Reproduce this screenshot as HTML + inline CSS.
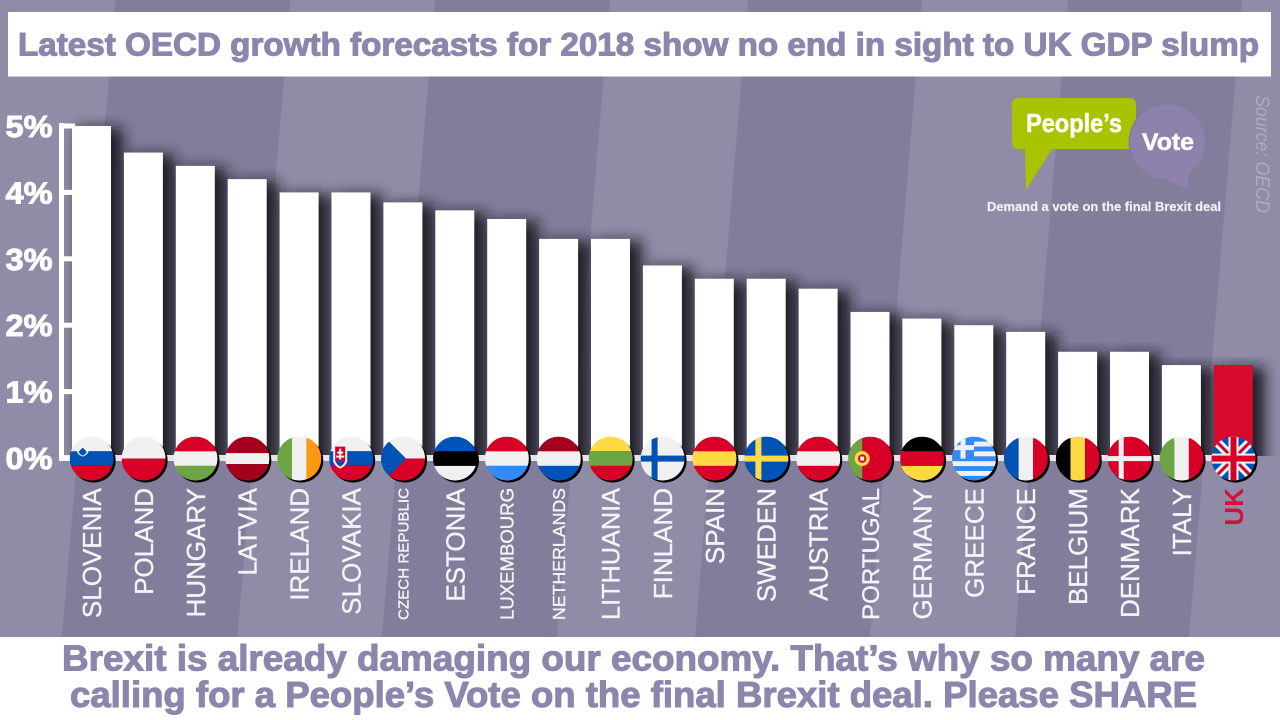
<!DOCTYPE html>
<html lang="en">
<head>
<meta charset="utf-8">
<title>Latest OECD growth forecasts for 2018</title>
<style>
  html, body { margin: 0; padding: 0; background: #827d9b; }
  #stage { position: relative; width: 1280px; height: 720px; overflow: hidden; }
  svg { display: block; font-family: "Liberation Sans", sans-serif; }
</style>
</head>
<body>
<div id="stage">
<svg id="chart" xmlns="http://www.w3.org/2000/svg" width="1280" height="720" viewBox="0 0 1280 720">
  <defs>
    <filter id="barBlur" x="-80%" y="-10%" width="260%" height="120%"><feGaussianBlur stdDeviation="7"/></filter>
    <clipPath id="plotClip"><rect x="0" y="0" width="1280" height="456"/></clipPath>
    <clipPath id="flagClip"><circle cx="0" cy="0" r="22"/></clipPath>
  </defs>

  <g>
    <rect width="1280" height="720" fill="#827d9b"/>
    <polygon points="0,0 115.5,0 62,637 0,637" fill="#908ca7"/>
    <polygon points="290.5,0 435,0 382,637 237.5,637" fill="#908ca7"/>
    <polygon points="610,0 748,0 695,637 557,637" fill="#908ca7"/>
    <polygon points="922,0 1068,0 1015,637 870,637" fill="#908ca7"/>
    <polygon points="1242,0 1280,0 1280,637 1189,637" fill="#908ca7"/>
  </g>

  <g id="shadows" clip-path="url(#plotClip)"></g>
  <g id="axis"></g>
  <g id="bars"></g>
  <g id="flags"></g>
  <g id="labels"></g>

  <g>
    <rect x="8" y="12" width="1263" height="64.5" fill="#ffffff"/>
    <text x="18" y="55.5" font-size="32" font-weight="700" fill="#8e85ad" stroke="#8e85ad" stroke-width="1.1" textLength="1241" lengthAdjust="spacingAndGlyphs">Latest OECD growth forecasts for 2018 show no end in sight to UK GDP slump</text>
  </g>

  <g>
    <path d="M1019,98 H1129 Q1136,98 1136,105 V149 H1052 L1026,190 L1025,149 H1019 Q1012,149 1012,142 V105 Q1012,98 1019,98 Z" fill="#aac300"/>
    <circle cx="1167.5" cy="142" r="39" fill="#827d9b"/>
    <circle cx="1167.5" cy="142" r="37.5" fill="#8e82ad"/>
    <polygon points="1160,176 1187,190 1189,170" fill="#8e82ad"/>
    <text x="1026" y="132" font-size="26" font-weight="700" fill="#ffffff" stroke="#ffffff" stroke-width="0.5" textLength="96" lengthAdjust="spacingAndGlyphs">People’s</text>
    <text x="1142" y="150" font-size="24" font-weight="700" fill="#ffffff" stroke="#ffffff" stroke-width="0.5" textLength="52" lengthAdjust="spacingAndGlyphs">Vote</text>
    <text x="987" y="211" font-size="12.5" font-weight="700" fill="#f0eff5" stroke="#f0eff5" stroke-width="0.2" textLength="234" lengthAdjust="spacingAndGlyphs">Demand a vote on the final Brexit deal</text>
  </g>

  <text transform="translate(1256,95) rotate(90)" font-size="19" font-style="italic" fill="#aeaac4" textLength="118" lengthAdjust="spacingAndGlyphs">Source: OECD</text>

  <g>
    <rect x="0" y="637" width="1280" height="83" fill="#ffffff"/>
    <text x="62" y="670.5" font-size="36" font-weight="700" fill="#8e85ad" stroke="#8e85ad" stroke-width="1.1" textLength="1143" lengthAdjust="spacingAndGlyphs">Brexit is already damaging our economy. That’s why so many are</text>
    <text x="70" y="707" font-size="36" font-weight="700" fill="#8e85ad" stroke="#8e85ad" stroke-width="1.1" textLength="1127" lengthAdjust="spacingAndGlyphs">calling for a People’s Vote on the final Brexit deal. Please SHARE</text>
  </g>
</svg>
</div>

<script>
var categories = ["SLOVENIA","POLAND","HUNGARY","LATVIA","IRELAND","SLOVAKIA","CZECH REPUBLIC","ESTONIA","LUXEMBOURG","NETHERLANDS","LITHUANIA","FINLAND","SPAIN","SWEDEN","AUSTRIA","PORTUGAL","GERMANY","GREECE","FRANCE","BELGIUM","DENMARK","ITALY","UK"];
var growthValues = [5.0,4.6,4.4,4.2,4.0,4.0,3.85,3.73,3.6,3.3,3.3,2.9,2.7,2.7,2.55,2.2,2.1,2.0,1.9,1.6,1.6,1.4,1.4];
var yTickValues = [0,1,2,3,4,5];
var yTickLabels = ["0%","1%","2%","3%","4%","5%"];
var highlightCategory = "UK";

var NS = "http://www.w3.org/2000/svg";
var BAND = 51.9, FIRST = 91.5, BAR_W = 39, Y0 = 458, UNIT = 66.4;
function xScale(i) { return FIRST + i * BAND; }
function yScale(v) { return Y0 - v * UNIT; }

function make(tag, attrs, parent) {
  var e = document.createElementNS(NS, tag);
  for (var k in attrs) e.setAttribute(k, attrs[k]);
  parent.appendChild(e);
  return e;
}
function slug(s) { return s.toLowerCase().replace(/\s+/g, "-"); }

var R = "#d80027", B = "#0052b4", W = "#f0f0f0", G = "#6da544", Y = "#ffda44", K = "#000000", O = "#ff9811", L = "#338af3", D = "#a2001d";
var flagSpecs = {
  "SLOVENIA": { h: [W, B, R] },
  "POLAND": { h: [W, R], even: true },
  "HUNGARY": { h: [R, W, G] },
  "LATVIA": { h: [D, W, D], narrow: true },
  "IRELAND": { v: [G, W, O] },
  "SLOVAKIA": { h: [W, B, R] },
  "CZECH REPUBLIC": { h: [W, R], even: true },
  "ESTONIA": { h: [B, K, W] },
  "LUXEMBOURG": { h: [R, W, L] },
  "NETHERLANDS": { h: [D, W, B] },
  "LITHUANIA": { h: [Y, G, R] },
  "FINLAND": { h: [W] },
  "SPAIN": { h: [R, Y, R] },
  "SWEDEN": { h: [B] },
  "AUSTRIA": { h: [R, W, R] },
  "PORTUGAL": { h: [R] },
  "GERMANY": { h: [K, R, Y] },
  "GREECE": { h: [L] },
  "FRANCE": { v: [B, W, R] },
  "BELGIUM": { v: [K, Y, R] },
  "DENMARK": { h: [R] },
  "ITALY": { v: [G, W, R] },
  "UK": { h: [B] }
};

function drawFlagExtras(name, g) {
  if (name === "SLOVENIA") {
    make("path", { d: "M-15,-15 H-3 V-9 Q-3,-4 -9,-2 Q-15,-4 -15,-9 Z", fill: W }, g);
    make("path", { d: "M-13,-7 L-9,-11 L-5,-7 Q-6,-4 -9,-3 Q-12,-4 -13,-7 Z", fill: B }, g);
  } else if (name === "SLOVAKIA") {
    make("path", { d: "M-18,-14 H-4 V3 Q-6,8 -11,10 Q-16,8 -18,3 Z", fill: W }, g);
    make("path", { d: "M-16,-12 H-6 V2 Q-7,6 -11,8 Q-15,6 -16,2 Z", fill: R }, g);
    make("rect", { x: -12, y: -10, width: 2, height: 11, fill: W }, g);
    make("rect", { x: -14, y: -7, width: 6, height: 2, fill: W }, g);
    make("rect", { x: -15, y: -3, width: 8, height: 2, fill: W }, g);
    make("path", { d: "M-15,2 H-7 Q-8,6 -11,8 Q-14,6 -15,2 Z", fill: B }, g);
  } else if (name === "CZECH REPUBLIC") {
    make("polygon", { points: "-22,-22 0,0 -22,22", fill: B }, g);
    make("polygon", { points: "-17,-20 3,0 -17,20 -22,20 -22,-20", fill: B }, g);
  } else if (name === "FINLAND") {
    make("rect", { x: -11, y: -22, width: 6, height: 44, fill: B }, g);
    make("rect", { x: -22, y: -3, width: 44, height: 6, fill: B }, g);
  } else if (name === "SWEDEN") {
    make("rect", { x: -11, y: -22, width: 6, height: 44, fill: Y }, g);
    make("rect", { x: -22, y: -3, width: 44, height: 6, fill: Y }, g);
  } else if (name === "DENMARK") {
    make("rect", { x: -11, y: -22, width: 5, height: 44, fill: W }, g);
    make("rect", { x: -22, y: -2.5, width: 44, height: 5, fill: W }, g);
  } else if (name === "PORTUGAL") {
    make("rect", { x: -22, y: -22, width: 14, height: 44, fill: G }, g);
    make("circle", { cx: -8, cy: 0, r: 7.5, fill: Y }, g);
    make("circle", { cx: -8, cy: 0, r: 4.2, fill: R }, g);
    make("rect", { x: -10, y: -2, width: 4, height: 4, fill: W }, g);
  } else if (name === "GREECE") {
    for (var s = 0; s < 4; s++) {
      make("rect", { x: -22, y: -17 + s * 9.8, width: 44, height: 4.9, fill: W }, g);
    }
    make("rect", { x: -22, y: -22, width: 22, height: 22, fill: L }, g);
    make("rect", { x: -13.5, y: -22, width: 5, height: 22, fill: W }, g);
    make("rect", { x: -22, y: -13.5, width: 22, height: 5, fill: W }, g);
  } else if (name === "UK") {
    make("path", { d: "M-22,-22 L22,22 M22,-22 L-22,22", stroke: W, "stroke-width": 9, fill: "none" }, g);
    make("path", { d: "M-22,-22 L22,22 M22,-22 L-22,22", stroke: R, "stroke-width": 3, fill: "none" }, g);
    make("rect", { x: -5, y: -22, width: 10, height: 44, fill: W }, g);
    make("rect", { x: -22, y: -5, width: 44, height: 10, fill: W }, g);
    make("rect", { x: -3, y: -22, width: 6, height: 44, fill: R }, g);
    make("rect", { x: -22, y: -3, width: 44, height: 6, fill: R }, g);
  }
}

function drawFlag(name, i, parent) {
  var spec = flagSpecs[name];
  var group = make("g", { transform: "translate(" + (xScale(i) + 0.2) + "," + (Y0 + 0.6) + ")" }, parent);
  
  
  make("circle", { cx: 2, cy: 2, r: 22, fill: "#000000" }, group);
  var inner = make("g", { "clip-path": "url(#flagClip)" }, group);
  var bands = spec.h || spec.v, horizontal = !!spec.h, n = bands.length;
  var stops = [];
  if (n === 1) stops = [-22, 22];
  else if (n === 2) stops = [-22, 0, 22];
  else if (spec.narrow) stops = [-22, -5.5, 5.5, 22];
  else stops = [-22, -7.3, 7.3, 22];
  bands.forEach(function (color, b) {
    var a = stops[b], z = stops[b + 1];
    if (horizontal) make("rect", { x: -22, y: a, width: 44, height: z - a, fill: color }, inner);
    else make("rect", { x: a, y: -22, width: z - a, height: 44, fill: color }, inner);
  });
  drawFlagExtras(name, inner);
}

var shadowLayer = document.getElementById("shadows");
var barLayer = document.getElementById("bars");
var flagLayer = document.getElementById("flags");
var labelLayer = document.getElementById("labels");
var axisLayer = document.getElementById("axis");

var zeroLine = make("rect", { x: 59, y: Y0 - 3, width: 1194, height: 6, fill: "#e6e6ea" }, axisLayer);


var yLine = make("rect", { x: 59, y: yScale(yTickValues[yTickValues.length - 1]) - 3, width: 5, height: (yScale(0) - yScale(yTickValues[yTickValues.length - 1])) + 6, fill: "#ffffff" }, axisLayer);



yTickValues.forEach(function (t, k) {
  var tick = make("rect", { x: 59, y: yScale(t) - 2.5, width: 16, height: 5, fill: "#ffffff" }, axisLayer);
  
  
  var lab = make("text", { x: 5.5, y: yScale(t) + 11, "font-size": 31, "font-weight": 700, fill: "#ffffff", stroke: "#ffffff", "stroke-width": 1, textLength: 47, lengthAdjust: "spacingAndGlyphs" }, axisLayer);
  lab.textContent = yTickLabels[k];
  
  
});

categories.forEach(function (name, i) {
  var cx = xScale(i), top = yScale(growthValues[i]), h = Y0 - top, hi = name === highlightCategory;

  var sh = make("rect", { x: cx - BAR_W / 2 + 6, y: top + 2, width: BAR_W + 6, height: h + 10, fill: "#16141f", opacity: 0.92, filter: "url(#barBlur)" }, shadowLayer);
  
  

  var bar = make("rect", { x: cx - BAR_W / 2, y: top, width: BAR_W, height: h, fill: hi ? "#d80a2d" : "#ffffff" }, barLayer);
  
  

  drawFlag(name, i, flagLayer);

  var label = make("text", { "text-anchor": "end", "font-size": 26, "font-weight": hi ? 700 : 400, fill: hi ? "#d2103a" : "#f4f4f7", stroke: hi ? "none" : "#f4f4f7", "stroke-width": 0.35, transform: "translate(" + (cx + 9.5) + ",488) rotate(-90)" }, labelLayer);
  label.textContent = name;
  
  
  var len = label.getComputedTextLength();
  if (len > 132) {
    var fs = 26 * 132 / len;
    label.setAttribute("font-size", fs.toFixed(2));
    label.setAttribute("transform", "translate(" + (cx + fs * 0.365) + ",488) rotate(-90)");
  }
});
</script>
</body>
</html>
